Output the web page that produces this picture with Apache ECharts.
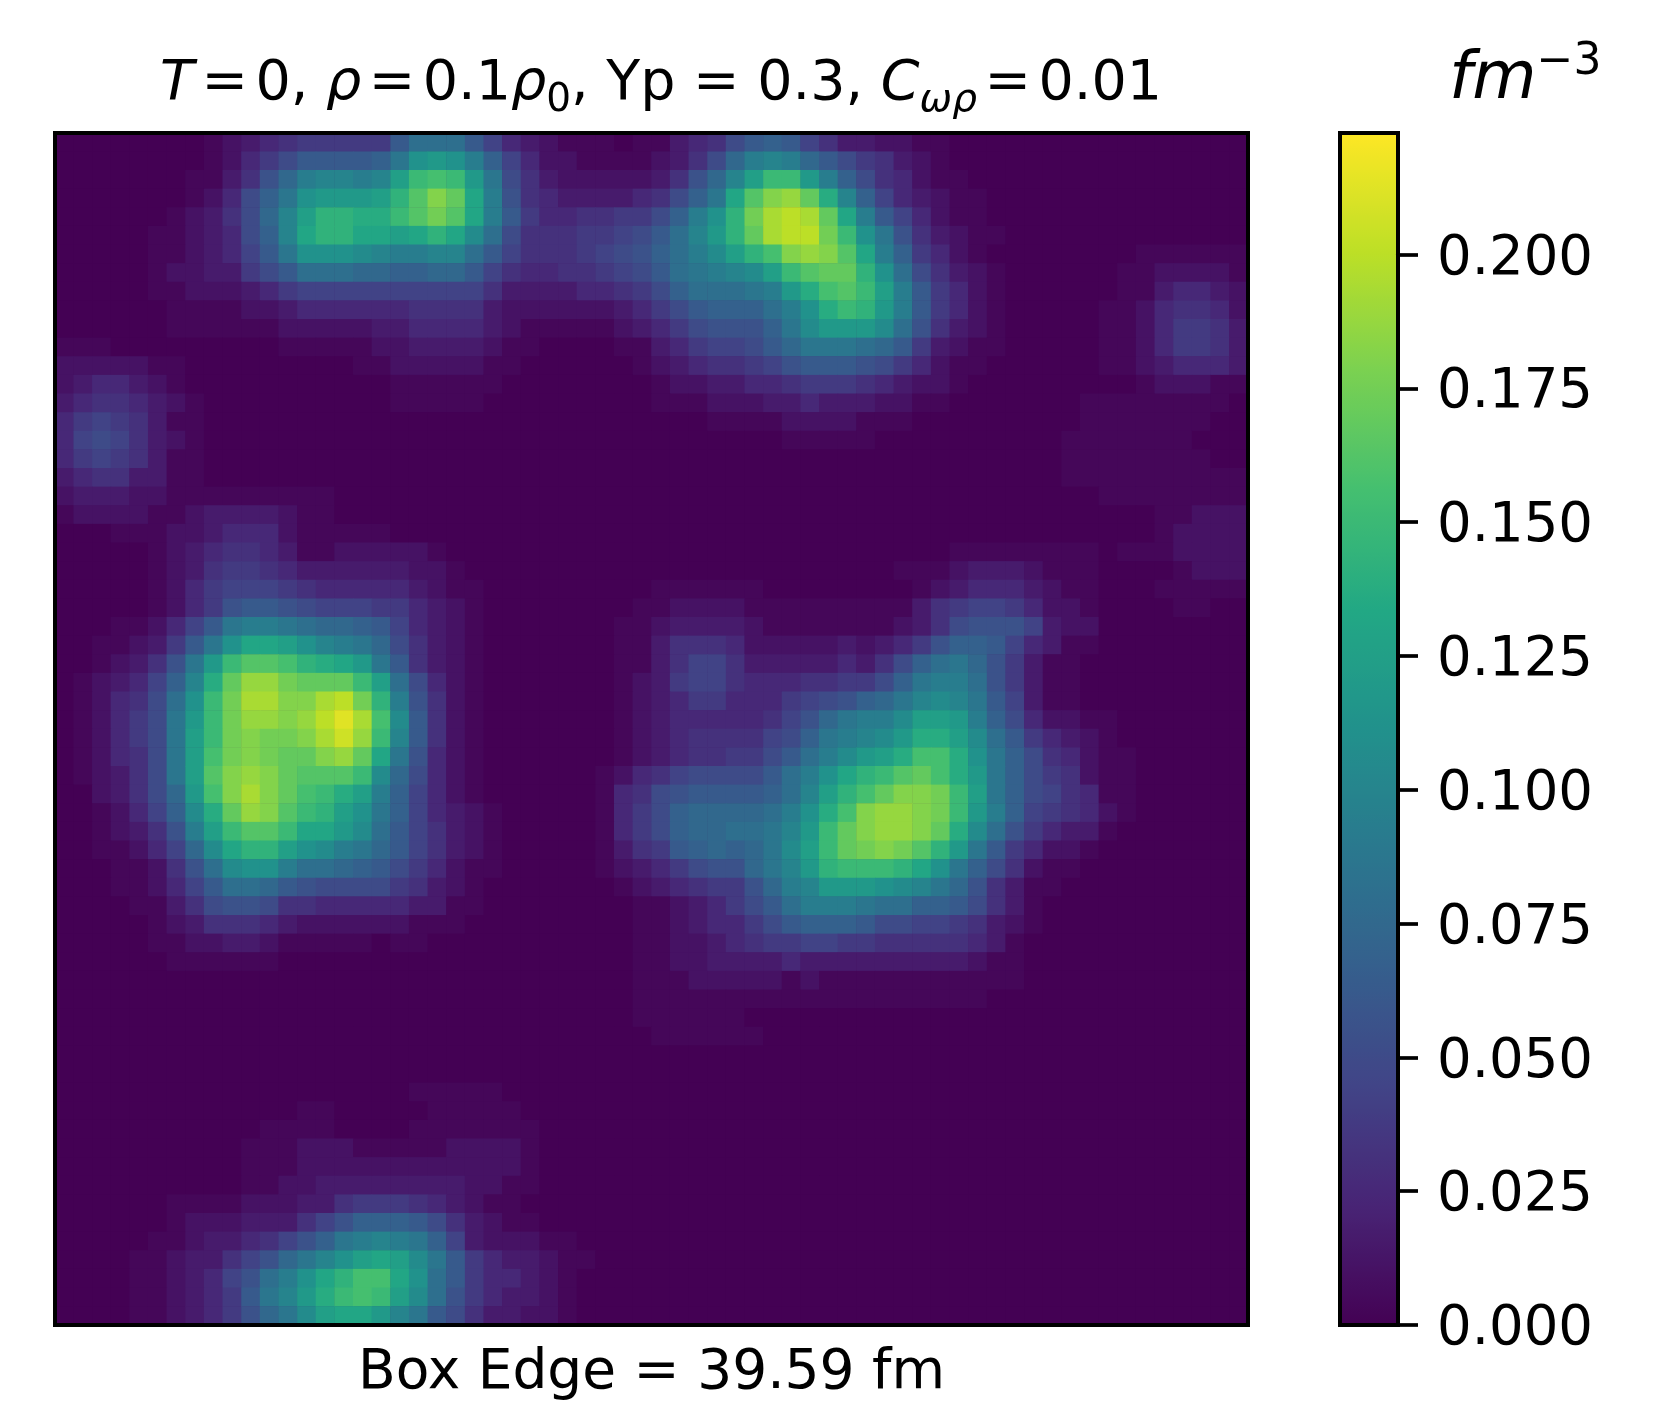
<!DOCTYPE html>
<html>
<head>
<meta charset="utf-8">
<title>Density slice</title>
<script src="https://cdn.jsdelivr.net/npm/echarts@6/dist/echarts.min.js"></script>
<style>
    html, body { margin: 0; padding: 0; background: #fff; }
    #main { width: 1665px; height: 1428px; }
</style>
</head>
<body>
<div id="main"></div>
<script>
// density, one string per row from the top, one base-36 digit per cell
// each digit counts steps of levelStep fm^-3, the faintest digits use lowLevels instead
const levelStep = 0.00625;
const lowLevels = [0, 0.0035, 0.0105, 0.0165];
const densityRows = [
    "00000000 12345666 66addda7 43211101 13458aba 75332211",
    "00000000 12468aaa abeijifb 74221111 2358cfgf ca865321",
    "00000001 1359cfgg fgkopoje 85322222 359cgkoo jfb85421 10000000",
    "00000001 248beijj jknqtrlf 95433334 58belqtu rmgb7432 11000000",
    "00000012 358cgknn mmoqsqlf a6445566 8bfinsvw vrlfa742 11000000",
    "00000112 348bglnn llklnlhd 85556678 adgjnrvw wsoie953 21100000",
    "00000112 347aeiii hgffggda 75556789 bdfhknpt utqlfb64 21000000 00111111",
    "00000122 3368addd ccbbcca7 54455678 adefghko qrrnid85 32100000 01122221",
    "00000112 22346777 77777775 33334456 8bdddefj mpqokfa6 42100000 01134432",
    "00000011 11223444 44455553 22222234 68abbbdf imonjfa6 42100000 11245542",
    "00000011 11112222 23344443 21111123 468999be hjjjhd95 32100000 11246653",
    "11100000 00001111 12233332 11000011 346778ac eeedca63 21100000 11246653",
    "22222110 00000000 11222221 10000001 23455679 aaa98642 11000000 11234443",
    "23443210 00000000 00111111 00000000 12233445 66654322 10000000 00122211",
    "34554321 00000000 00111110 00000000 11122233 43332211 00000001 11111110",
    "46765311 00000000 00000000 00000000 00011112 22211100 00000001 11111100",
    "47875321 00000000 00000000 00000000 00000001 11110000 00000011 11111000",
    "46765311 00000000 00000000 00000000 00000000 00000000 00000011 11111100",
    "34553311 00000000 00000000 00000000 00000000 00000000 00000011 11111111",
    "23332211 11111110 00000000 00000000 00000000 00000000 00000000 11111111",
    "12222112 33332110 00000000 00000000 00000000 00000000 00000000 00011222",
    "00011122 34442111 11000000 00000000 00000000 00000000 00000000 00012222",
    "00000123 45543112 22221000 00000000 00000000 00000000 11111111 01112222",
    "00000123 56654333 33322100 00000000 00000000 00000111 23332111 00001222",
    "00000124 67776544 44432110 00000000 11111100 00000012 34443211 00011111",
    "00000124 69aa9877 76643210 00000001 12222111 11111135 67764221 00001100",
    "00011247 aeffedcc ba743210 00000011 23333211 11111235 89997322",
    "0011236a eillkigf ec853210 00000011 35554222 22323469 bba74311",
    "0012359e joqqpnml jea53210 00000011 35775333 334358bd ec963110",
    "012347bg mruusrrr okd84210 00000012 36775444 55668bef fd963110",
    "012458di osvvttvw snf95210 00000012 34664446 789bcegh gea73110",
    "012468ej osuutuwy vpha5210 00000012 34444457 9ceffhkk jfb84221 10000000",
    "012468ek ostsstvx uoga5210 00000012 34555578 befghjmm khda6432 10000000",
    "012458ek pstsrrtu rle94210 00000012 3455668a dfhjkmpp mieb8542 11000000",
    "012358ek qtutrqqq ohc84210 00000124 578888ad filnoqrp mjeb8652 11000000",
    "002358cj ptvtrpom kfb74210 00000145 89aaaabd gknprtts okeb8754 11000000",
    "001247bh mrutqonk ieb74321 00000146 8bccccdf imptuuts ojfb7654 21000000",
    "0012359f koqqollj hda75321 00000146 8bccddeg jortuutr mhd96433 10000000",
    "0011247c hlnnkihf eca75321 00000135 6abcbceh korstsqn jea64221",
    "00011259 dhiifddc ba864211 00000123 46899ceg jnooonli eb852110",
    "00011247 addca988 88653210 00000012 345669cf gjjjihge c9531100",
    "00001135 89985544 44433110 00000001 123468ad fffeddbb a8531000",
    "00000123 55543222 22211100 00000001 1234468a bbba8877 65321000",
    "00000112 23321111 10110000 00000001 12234566 77665555 54310000",
    "00000011 11110000 00000000 00000001 12233334 33333333 32110000",
    "00000000 00000000 00000000 00000001 11222221 21111111 11110000",
    "00000000 00000000 00000000 00000001 11111111 11111111 11000000",
    "00000000 00000000 00000000 00000001 11111000",
    "00000000 00000000 00000000 00000000 11111100",
    "",
    "",
    "00000000 00000000 00011111",
    "00000000 00000110 00001111 10000000",
    "00000000 00011110 00011111 11000000",
    "00000000 00111222 11111222 21000000",
    "00000000 00111222 22222222 21000000",
    "00000000 00112233 33333322 11000000",
    "00000011 11222335 66654321 10000000",
    "00000012 22333579 bbba8532 11000000",
    "00000112 334579be fgfeb732 22110000",
    "00001123 3579cegi klkhea64 33211000",
    "00001123 479dfiln pplida64 43210000",
    "00001123 46aegjmo pokhd964 33210000",
    "00001123 469cehkl ljgea853 32210000"
];

const gridSize = 64;
const densityMax = 0.2227;
const tickStep = 0.025;
const lastTick = 0.2;
const viridis = ['#440154', '#482475', '#414487', '#355f8d', '#2a788e', '#21918c', '#22a884', '#44bf70', '#7ad151', '#bddf26', '#fde725'];

const cells = [];
const indexNames = [];
for (let i = 0; i < gridSize; i++) indexNames.push(String(i));
densityRows.forEach(function (row, r) {
    const digits = row.replace(/ /g, '').padEnd(gridSize, '0');
    for (let c = 0; c < gridSize; c++) {
        const level = parseInt(digits[c], 36);
        cells.push([c, r, level < lowLevels.length ? lowLevels[level] : level * levelStep]);
    }
});

const plot = { left: 55, top: 133, width: 1193, height: 1192 };
const bar = { left: 1340, top: 133, width: 58, height: 1192 };
// the tick axis stops at the last tick, the colour strip goes on up to densityMax
const tickHeight = bar.height * lastTick / densityMax;
const font = 'DejaVu Sans';
const textSize = 55;

function mathText(size, extra) {
    return Object.assign({ fontFamily: font, fontSize: size, fontWeight: 'normal', color: '#000' }, extra);
}

const chart = echarts.init(document.getElementById('main'), null, { width: 1665, height: 1428 });
chart.setOption({
    animation: false,
    backgroundColor: '#fff',
    title: [{
        left: 160,
        top: 50,
        padding: 0,
        text: '{i|T}{eq|=}{r|0, }{i|ρ}{eq|=}{r|0.1}{i|ρ}{sub|0}{r|, Yp = 0.3, }{i|C}{subi|ωρ}{eq|=}{r|0.01}',
        textStyle: {
            fontWeight: 'normal',
            rich: {
                r: mathText(55.5, { lineHeight: 70 }),
                eq: mathText(55.5, { lineHeight: 70, padding: [0, 7.5, 0, 7.5] }),
                i: mathText(55.5, { lineHeight: 70, fontStyle: 'italic' }),
                sub: mathText(39, { lineHeight: 44, verticalAlign: 'bottom' }),
                subi: mathText(39, { lineHeight: 44, verticalAlign: 'bottom', fontStyle: 'italic' })
            }
        }
    }, {
        left: 1449,
        top: 41,
        padding: 0,
        text: '{i|fm}{sup|−3}',
        textStyle: {
            fontWeight: 'normal',
            rich: {
                i: mathText(66, { lineHeight: 80, fontStyle: 'italic' }),
                sup: mathText(44, { lineHeight: 44, verticalAlign: 'top' })
            }
        }
    }],
    grid: [
        Object.assign({ show: true, backgroundColor: '#440154', borderWidth: 0 }, plot),
        { show: false, left: bar.left, width: bar.width, top: bar.top + bar.height - tickHeight, height: tickHeight }
    ],
    xAxis: [{
        type: 'category',
        gridIndex: 0,
        data: indexNames,
        name: 'Box Edge = 39.59 fm',
        nameLocation: 'middle',
        nameGap: 21,
        nameTextStyle: { fontFamily: font, fontSize: textSize, color: '#000' },
        axisLine: { show: false },
        axisTick: { show: false },
        axisLabel: { show: false },
        splitLine: { show: false }
    }, {
        type: 'value',
        gridIndex: 1,
        min: 0,
        max: 1,
        show: false
    }],
    yAxis: [{
        type: 'category',
        gridIndex: 0,
        data: indexNames,
        inverse: true,
        axisLine: { show: false },
        axisTick: { show: false },
        axisLabel: { show: false },
        splitLine: { show: false }
    }, {
        type: 'value',
        gridIndex: 1,
        position: 'right',
        min: 0,
        max: lastTick,
        interval: tickStep,
        z: 10,
        axisLine: { show: true, onZero: false, lineStyle: { color: '#000', width: 4 } },
        axisTick: {
            show: true,
            length: 20,
            lineStyle: { color: '#000', width: 3.7 }
        },
        axisLabel: {
            show: true,
            margin: 39,
            fontFamily: font,
            fontSize: 54.5,
            color: '#000',
            verticalAlign: 'top',
            lineHeight: 10,
            formatter: function (value) { return value.toFixed(3); }
        },
        splitLine: { show: false }
    }],
    visualMap: {
        type: 'continuous',
        seriesIndex: 0,
        min: 0,
        max: densityMax,
        calculable: false,
        hoverLink: false,
        orient: 'vertical',
        left: bar.left,
        top: bar.top,
        padding: 0,
        itemWidth: bar.width,
        itemHeight: bar.height,
        text: null,
        showLabel: false,
        inRange: { color: viridis }
    },
    series: [{
        type: 'heatmap',
        xAxisIndex: 0,
        yAxisIndex: 0,
        data: cells,
        progressive: 0,
        emphasis: { disabled: true }
    }],
    graphic: [
        { type: 'rect', z: 100, silent: true, shape: { x: plot.left, y: plot.top, width: plot.width, height: plot.height }, style: { fill: 'none', stroke: '#000', lineWidth: 4 } },
        { type: 'rect', z: 100, silent: true, shape: { x: bar.left, y: bar.top, width: bar.width, height: bar.height }, style: { fill: 'none', stroke: '#000', lineWidth: 4 } }
    ]
});
</script>
</body>
</html>
